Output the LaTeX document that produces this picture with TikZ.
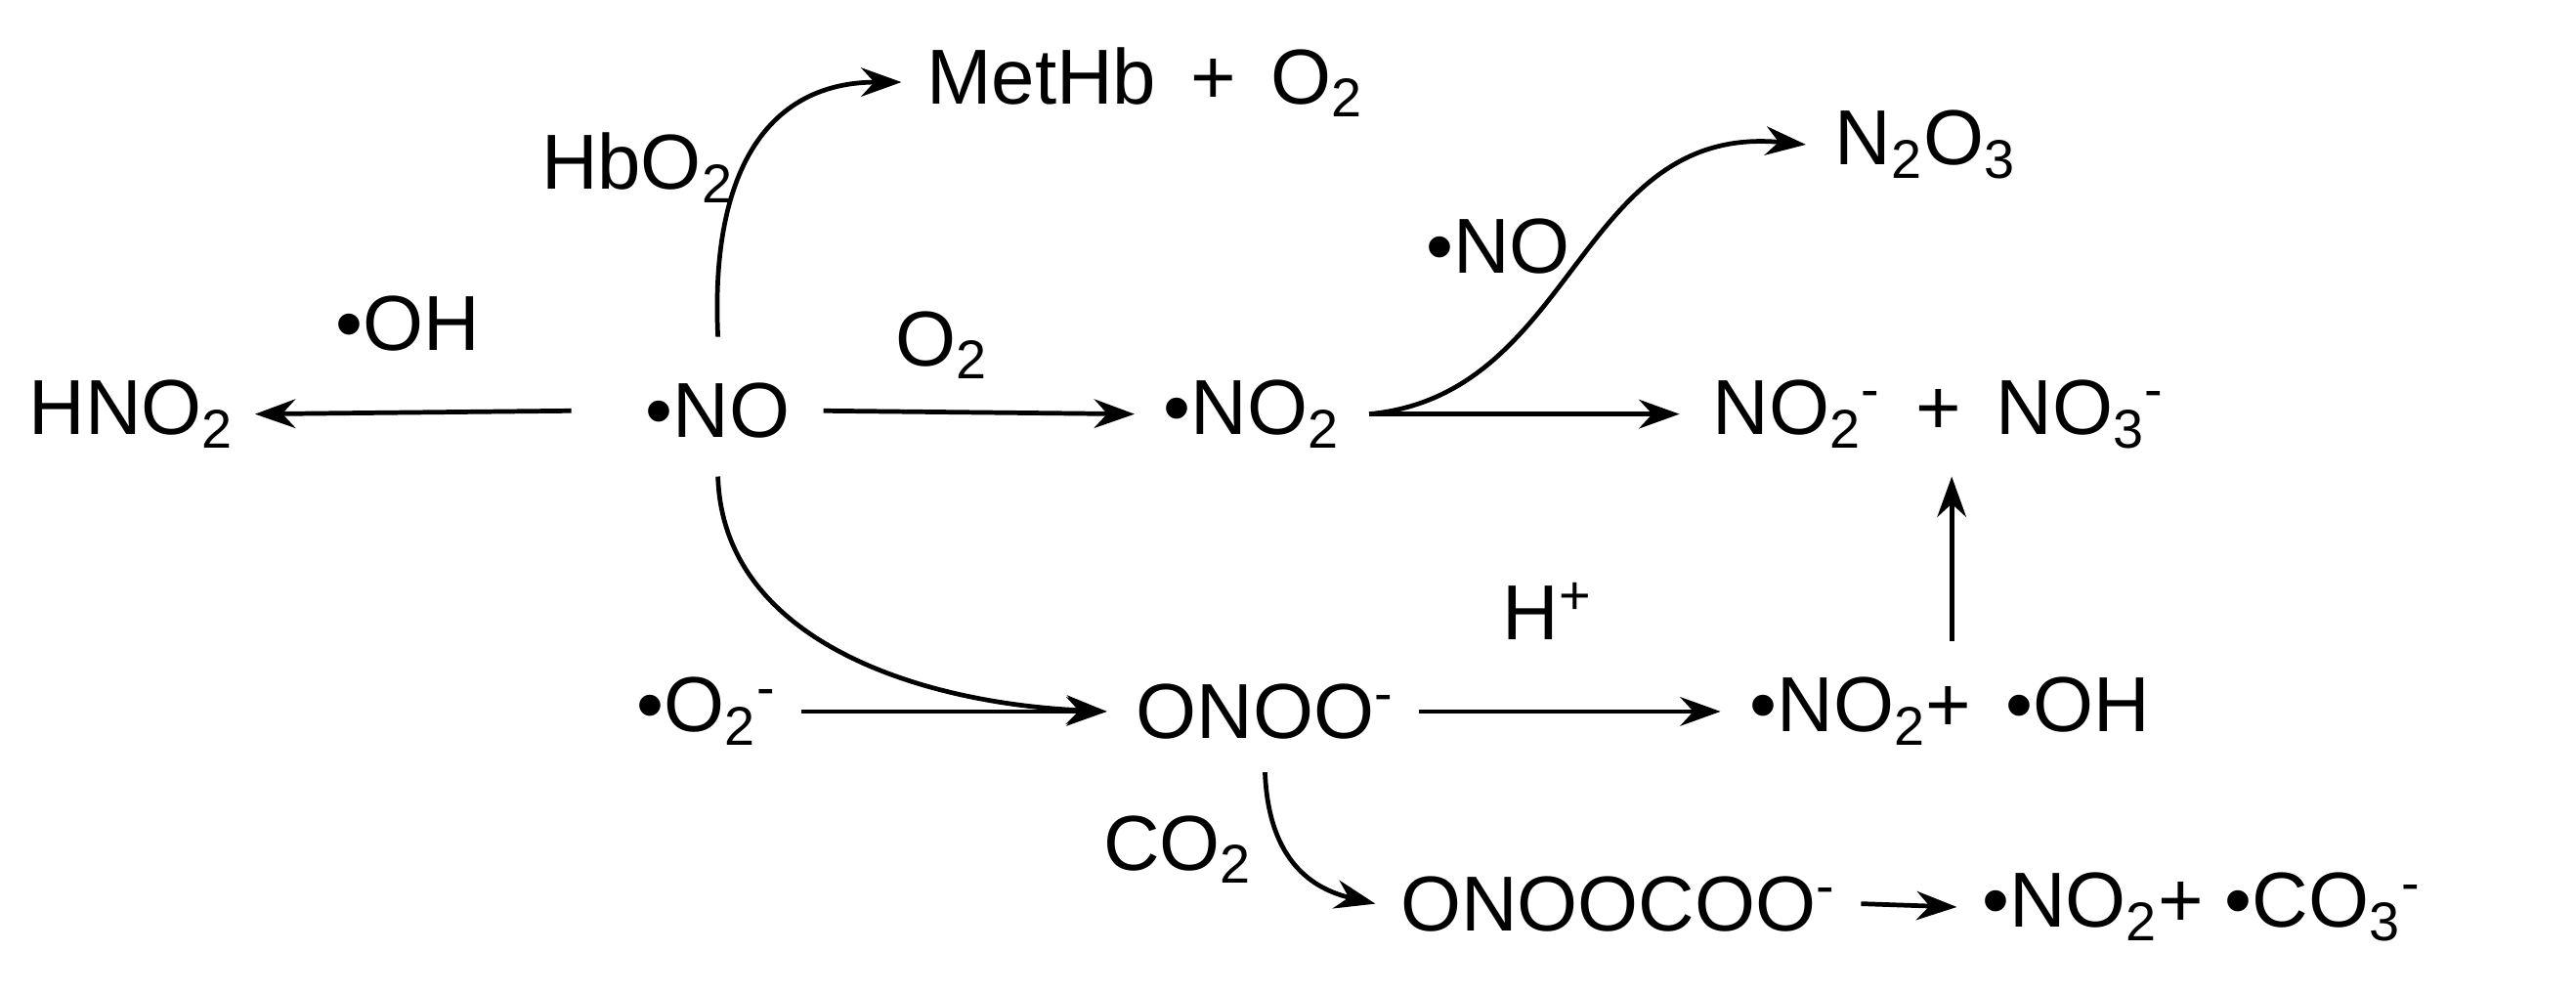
\documentclass[tikz,border=0pt]{standalone}
\usepackage{fontspec}
\setmainfont{Liberation Sans}
\usetikzlibrary{arrows.meta}
\newcommand{\sub}[1]{\textsubscript{#1}}
\newcommand{\sups}[1]{\textsuperscript{#1}}
\begin{document}
\begin{tikzpicture}[x=0.02cm,y=-0.02cm,
  every node/.style={font=\fontsize{27}{30}\selectfont, inner sep=0pt},
  rx/.style={line width=1.6pt,-{Stealth[length=14pt,width=10pt]}}]
\useasboundingbox (0,0) rectangle (1568,605);
\node (met) at (697,50) {MetHb\, + \,O\sub{2}};
\node (hbo) at (388,102) {HbO\sub{2}};
\node (n2o3) at (1172,88) {N\sub{2}O\sub{3}};
\node (nol) at (912,150) {•NO};
\node (ohl) at (248,197) {•OH};
\node (o2l) at (573,210) {O\sub{2}};
\node (hno2) at (80,252) {HNO\sub{2}};
\node (no) at (437,250) {•NO};
\node (no2) at (762,252) {•NO\sub{2}};
\node (prod) at (1180,252) {NO\sub{2}\sups{-}\, + \,NO\sub{3}\sups{-}};
\node (hp) at (942,372) {H\sups{+}};
\node (sup) at (430,433) {•O\sub{2}\sups{-}};
\node (onoo) at (770,433) {ONOO\sups{-}};
\node (nooh) at (1187,433) {•NO\sub{2}+ \,•OH};
\node (co2) at (717,517) {CO\sub{2}};
\node (onc) at (985,550) {ONOOCOO\sups{-}};
\node (fin) at (1340,552) {•NO\sub{2}+ •CO\sub{3}\sups{-}};
\draw[rx] ([xshift=-0.9cm]no.west) -- ([xshift=0.25cm]hno2.east);
\draw[rx] ([xshift=0.4cm]no.east) -- ([xshift=-0.35cm]no2.west);
\draw[rx] ([xshift=0.35cm]no2.east) -- ([xshift=-0.4cm]prod.west);
\draw[rx] ([xshift=0.35cm]no2.east) .. controls (960,240) and (960,75) .. ([xshift=-0.35cm]n2o3.west);
\draw[rx] (437,205) .. controls (432,100) and (470,50) .. ([xshift=-0.3cm]met.west);
\draw[rx] (437,290) .. controls (440,390) and (560,428) .. ([xshift=-0.35cm]onoo.west);
\draw[rx] ([xshift=0.3cm]sup.east) -- ([xshift=-0.35cm]onoo.west);
\draw[rx] ([xshift=0.3cm]onoo.east) -- ([xshift=-0.35cm]nooh.west);
\draw[rx] (1188,390) -- (1188,290);
\draw[rx] (770,470) .. controls (772,520) and (795,540) .. ([xshift=-0.3cm]onc.west);
\draw[rx] ([xshift=0.3cm]onc.east) -- ([xshift=-0.3cm]fin.west);
\end{tikzpicture}
\end{document}
